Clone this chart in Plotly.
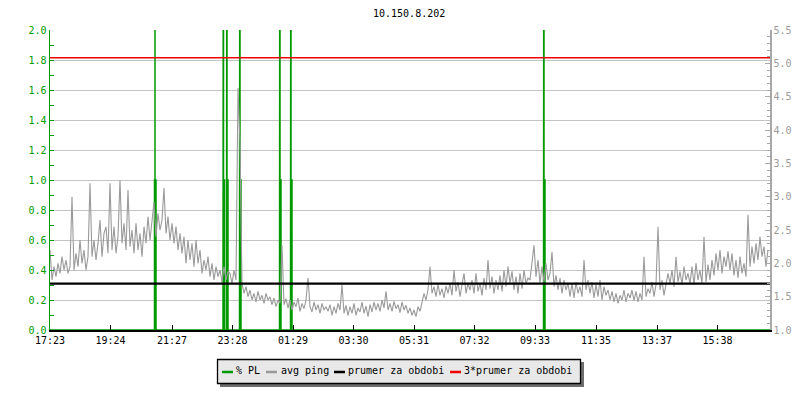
import plotly.graph_objects as go

# ---------------- data ----------------
title_text = "10.150.8.202"

# time axis: minutes since 17:23, 24 h window
x_range_min = [0, 1440]
tick_minutes = [0, 121, 244, 365, 486, 607, 728, 849, 970, 1092, 1214, 1335]
tick_labels = ["17:23", "19:24", "21:27", "23:28", "01:29", "03:30",
               "05:31", "07:32", "09:33", "11:35", "13:37", "15:38"]

# avg ping [ms], one sample every 4 minutes starting at 17:23
ping_step_min = 4
avg_ping = [
    2.2, 1.75, 1.95, 1.8, 2.0, 1.85, 2.1, 1.9, 2.05, 1.85,
    1.95, 3.0, 1.9, 2.15, 1.95, 2.35, 2.0, 2.2, 1.9, 2.1,
    3.2, 2.1, 2.35, 2.05, 2.3, 2.65, 2.1, 2.45, 2.55, 2.15,
    3.2, 2.2, 2.55, 2.15, 2.4, 3.25, 2.3, 2.6, 2.2, 3.1,
    2.25, 2.5, 2.15, 2.6, 2.2, 2.45, 2.1, 2.55, 2.3, 2.7,
    2.35, 2.6, 2.92, 2.4, 2.75, 2.5, 2.65, 3.13, 2.45, 2.7,
    2.35, 2.6, 2.3, 2.55, 2.2, 2.45, 2.15, 2.4, 2.0, 2.35,
    2.05, 2.3, 1.95, 2.35, 2.0, 2.2, 1.85, 2.05, 1.9, 2.1,
    1.8, 2.0, 1.75, 1.95, 1.8, 1.9, 1.72, 1.95, 1.75, 1.88,
    1.85, 1.7, 1.9, 1.75, 4.63, 3.8, 1.7, 1.55, 1.65, 1.5,
    1.6, 1.45, 1.55, 1.42, 1.58, 1.45, 1.52, 1.4, 1.55, 1.45,
    1.5, 1.38, 1.48, 1.35, 1.45, 1.4, 2.27, 1.38, 1.47, 1.33,
    1.45, 1.3, 1.42, 1.35, 1.48, 1.28, 1.4, 1.32, 1.45, 1.78,
    1.35, 1.27, 1.42, 1.3, 1.38, 1.25, 1.4, 1.3, 1.35, 1.28,
    1.38, 1.22, 1.35, 1.25, 1.4, 1.3, 1.68, 1.25, 1.37, 1.22,
    1.35, 1.25, 1.4, 1.22, 1.33, 1.27, 1.42, 1.25, 1.36, 1.2,
    1.38, 1.27, 1.42, 1.3, 1.4, 1.28, 1.45, 1.33, 1.58, 1.3,
    1.4, 1.28, 1.43, 1.32, 1.38, 1.26, 1.42, 1.3, 1.37, 1.25,
    1.33, 1.22, 1.3, 1.2, 1.35, 1.28, 1.42, 1.55, 1.45, 1.6,
    1.95, 1.55, 1.65, 1.5, 1.68, 1.52, 1.62, 1.48, 1.66, 1.55,
    1.7, 1.52, 1.9, 1.58, 1.72, 1.5, 1.68, 1.85, 1.55, 1.7,
    1.6, 1.75, 1.55, 1.85, 1.58, 1.7, 1.52, 1.78, 1.6, 2.05,
    1.62, 1.8, 1.55, 1.75, 1.6, 1.82, 1.58, 1.9, 1.65, 1.95,
    1.7, 1.88, 1.6, 1.8, 1.55, 1.85, 1.62, 1.9, 1.7, 1.78,
    1.75, 2.0, 2.27, 1.8, 2.05, 1.7, 1.95, 1.72, 2.0, 1.75,
    1.85, 2.17, 1.65, 1.82, 1.6, 1.78, 1.55, 1.75, 1.6, 1.7,
    1.5, 1.7, 1.48, 1.72, 1.55, 1.65, 1.5, 2.05, 1.6, 1.75,
    1.55, 1.72, 1.48, 1.68, 1.5, 1.75, 1.45, 1.65, 1.52, 1.6,
    1.45, 1.58, 1.42, 1.55, 1.4, 1.52, 1.45, 1.6, 1.42, 1.55,
    1.48, 1.6, 1.44, 1.58, 1.42, 1.55, 1.45, 2.1, 1.5, 1.62,
    1.55, 1.72, 1.5, 1.68, 2.55, 1.6, 1.75, 1.52, 1.7, 1.85,
    1.7, 1.9, 1.65, 2.1, 1.72, 1.88, 1.68, 1.95, 1.75, 1.85,
    1.7, 1.95, 1.68, 2.0, 1.75, 1.9, 1.7, 2.4, 1.72, 1.98,
    1.75, 2.05, 1.82, 2.15, 1.9, 2.2, 1.85, 2.1, 1.95, 2.18,
    1.9, 2.15, 1.82, 2.05, 1.78, 2.1, 1.85, 2.0, 1.8, 2.73,
    1.95, 2.25, 2.0, 2.3, 2.05, 2.4, 2.1, 2.25, 1.95, 2.2,
]
ping_minutes = [i * ping_step_min for i in range(len(avg_ping))]

# packet loss events [%]: start minute, plateau value, peak value
pl_event_min = [209, 346, 353, 379, 459, 481, 987]
pl_plateau = [1, 1, 1, 1, 1, 1, 1]
pl_peak = [5, 5, 5, 5, 5, 5, 5]

prumer = 1.695          # period mean of avg ping
prumer3 = 3 * prumer    # 3 * period mean

# ---------------- colours / helpers ----------------
GREEN = "#009a00"
GRAY = "#9a9a9a"
RED = "#f00000"
FONT = "DejaVu Sans Mono"

L, R, T, B = 50, 770, 30, 330
def px(x):
    return (x - L) / (R - L)
def py(y):
    return (B - y) / (B - T)

# build packet-loss step line from the events
pl_x, pl_y = [x_range_min[0]], [0]
for t, v, p in zip(pl_event_min, pl_plateau, pl_peak):
    pl_x += [t, t, t + 1, t + 1, t + 1, t + 3, t + 3]
    pl_y += [0, v, v, p, v, v, 0]
pl_x.append(x_range_min[1])
pl_y.append(0)

fig = go.Figure()
fig.add_trace(go.Scatter(x=pl_x, y=pl_y, mode="lines", name="% PL",
                         line=dict(color=GREEN, width=1.5), yaxis="y"))
fig.add_trace(go.Scatter(x=ping_minutes, y=avg_ping, mode="lines", name="avg ping",
                         line=dict(color=GRAY, width=1.1), yaxis="y2"))
fig.add_trace(go.Scatter(x=x_range_min, y=[prumer, prumer], mode="lines",
                         name="prumer za obdobi", line=dict(color="black", width=2.2),
                         yaxis="y2"))
fig.add_trace(go.Scatter(x=x_range_min, y=[prumer3, prumer3], mode="lines",
                         name="3*prumer za obdobi", line=dict(color=RED, width=1.5),
                         yaxis="y2"))

fig.update_layout(
    width=800, height=400,
    margin=dict(l=L, r=800 - R, t=T, b=400 - B, autoexpand=False),
    paper_bgcolor="white", plot_bgcolor="white",
    showlegend=False,
    font=dict(family=FONT, size=10, color="black"),
    xaxis=dict(range=x_range_min, tickvals=tick_minutes, ticktext=tick_labels,
               showgrid=False, zeroline=False, showline=True, linecolor="black",
               linewidth=1.5, ticks="inside", ticklen=5, tickcolor="black",
               automargin=False,
               tickfont=dict(family=FONT, size=10, color="black")),
    yaxis=dict(range=[0, 2], tick0=0, dtick=0.2, tickformat=".1f",
               showgrid=True, gridcolor="#c4c4c4", gridwidth=1, zeroline=False,
               showline=True, linecolor=GREEN, linewidth=1.5,
               ticks="inside", ticklen=4, tickcolor=GREEN, automargin=False,
               tickfont=dict(family=FONT, size=10, color=GREEN),
               minor=dict(ticks="inside", ticklen=4, dtick=0.1, tick0=0,
                          tickcolor=GREEN, showgrid=False)),
    yaxis2=dict(range=[1, 5.5], tick0=1, dtick=0.5, tickformat=".1f",
                overlaying="y", side="right", showgrid=False, zeroline=False,
                showline=True, linecolor="#a8a8a8", linewidth=1.5,
                ticks="inside", ticklen=5, tickcolor="#a8a8a8", automargin=False,
                tickfont=dict(family=FONT, size=10, color="#9a9a9a"),
                minor=dict(ticks="inside", ticklen=3, dtick=0.1, tick0=1,
                           tickcolor="#a8a8a8", showgrid=False)),
)

# title
fig.add_annotation(text=title_text, xref="paper", yref="paper", x=px(409), y=py(13.5),
                   showarrow=False, xanchor="center", yanchor="middle",
                   font=dict(family=FONT, size=10, color="black"))

# legend box (drawn manually to match the compact rrd-style legend)
shapes = [
    dict(type="rect", xref="paper", yref="paper", x0=px(220), x1=px(584),
         y0=py(362), y1=py(387), fillcolor="#6e6e6e", line=dict(width=0)),
    dict(type="rect", xref="paper", yref="paper", x0=px(217.5), x1=px(580.5),
         y0=py(359.5), y1=py(383.5), fillcolor="#e8e8e8",
         line=dict(color="black", width=1.3)),
]
legend_items = [("% PL", GREEN, 222, 236), ("avg ping", GRAY, 266, 280.5),
                ("prumer za obdobi", "black", 334, 348), ("3*prumer za obdobi", RED, 450, 464)]
for name, col, sx, tx in legend_items:
    shapes.append(dict(type="line", xref="paper", yref="paper", x0=px(sx), x1=px(sx + 11),
                       y0=py(372), y1=py(372), line=dict(color=col, width=2.5)))
    fig.add_annotation(text=name, xref="paper", yref="paper", x=px(tx - 2), y=py(370.5),
                       showarrow=False, xanchor="left", yanchor="middle",
                       font=dict(family=FONT, size=10, color="black"))
fig.update_layout(shapes=shapes)

fig.write_html("out.html",
               config={"displayModeBar": False, "staticPlot": True},
               post_script="document.body.style.margin='0px';document.body.style.overflow='hidden';")
